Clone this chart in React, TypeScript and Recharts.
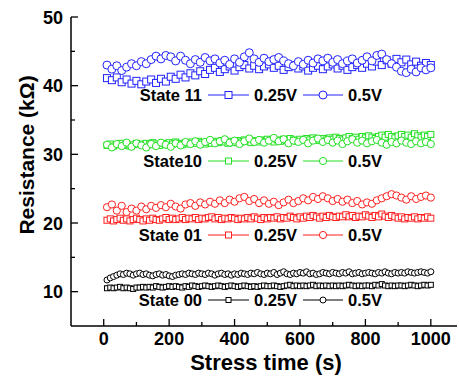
import React from 'react';
import { ScatterChart, Scatter, XAxis, YAxis } from 'recharts';

// sample times (s): the sparser set is every 15 s, the denser one every 10 s
const timeA = [
  10, 25, 40, 55, 70, 85, 100, 115, 130, 145,
  160, 175, 190, 205, 220, 235, 250, 265, 280, 295,
  310, 325, 340, 355, 370, 385, 400, 415, 430, 445,
  460, 475, 490, 505, 520, 535, 550, 565, 580, 595,
  610, 625, 640, 655, 670, 685, 700, 715, 730, 745,
  760, 775, 790, 805, 820, 835, 850, 865, 880, 895,
  910, 925, 940, 955, 970, 985, 1000,
];
const timeB = [
  10, 20, 30, 40, 50, 60, 70, 80, 90, 100,
  110, 120, 130, 140, 150, 160, 170, 180, 190, 200,
  210, 220, 230, 240, 250, 260, 270, 280, 290, 300,
  310, 320, 330, 340, 350, 360, 370, 380, 390, 400,
  410, 420, 430, 440, 450, 460, 470, 480, 490, 500,
  510, 520, 530, 540, 550, 560, 570, 580, 590, 600,
  610, 620, 630, 640, 650, 660, 670, 680, 690, 700,
  710, 720, 730, 740, 750, 760, 770, 780, 790, 800,
  810, 820, 830, 840, 850, 860, 870, 880, 890, 900,
  910, 920, 930, 940, 950, 960, 970, 980, 990, 1000,
];

// resistance in kΩ, read at 0.25 V and 0.5 V
const state11Low = [
  41.1, 40.8, 41.2, 40.5, 40.9, 40.3, 40.7, 40.2, 40.6, 40.9,
  40.4, 41.0, 40.6, 41.3, 41.0, 41.6, 41.2, 41.8, 41.5, 42.1,
  41.7, 42.3, 42.6, 42.0, 42.4, 42.8, 42.2, 42.7, 43.0, 42.5,
  42.9, 42.4, 42.8, 43.1, 42.6, 42.9, 42.3, 42.7, 43.0, 42.5,
  42.8, 42.2, 42.6, 42.9, 42.4, 42.8, 43.1, 42.5, 42.9, 42.3,
  42.7, 43.0, 42.6, 43.2, 42.8, 43.5, 43.0, 43.7, 43.2, 43.9,
  43.4, 43.8, 43.1, 43.5, 42.9, 43.3, 43.0,
];
const state11High = [
  43.0, 42.4, 42.9, 42.2, 42.7, 43.2, 42.9, 43.5, 43.2, 43.8,
  44.3, 43.9, 44.4, 44.2, 43.6, 44.3, 43.7, 43.2, 43.8, 43.4,
  44.1, 43.6, 43.9, 43.3, 43.7, 43.1, 43.9, 43.4, 44.2, 44.8,
  43.9, 43.4, 44.0, 43.5, 43.8, 44.1, 43.6, 43.2, 42.9, 43.5,
  43.1, 43.7, 43.3, 43.9, 43.6, 44.0, 43.4, 43.8, 43.2, 43.6,
  43.9, 43.3, 43.7, 44.2, 43.6, 44.4, 44.6, 43.8, 43.2, 42.7,
  42.1, 41.9, 42.4, 42.0, 42.6, 42.3, 42.6,
];
const state10Low = [
  31.3, 31.5, 31.2, 31.4, 31.6, 31.3, 31.5, 31.2, 31.4, 31.6,
  31.5, 31.3, 31.6, 31.4, 31.7, 31.5, 31.3, 31.6, 31.4, 31.7,
  31.5, 31.8, 31.6, 31.4, 31.7, 31.5, 31.8, 31.6, 31.9, 31.7,
  31.5, 31.8, 31.6, 31.9, 31.7, 32.0, 31.8, 31.6, 31.9, 31.7,
  32.0, 31.8, 32.1, 31.9, 31.7, 32.0, 31.8, 32.1, 31.9, 32.2,
  32.0, 31.8, 32.1, 31.9, 32.2, 32.0, 32.3, 32.1, 31.9, 32.2,
  32.0, 32.3, 32.1, 32.4, 32.2, 32.0, 32.3, 32.1, 32.4, 32.2,
  32.5, 32.3, 32.1, 32.4, 32.6, 32.3, 32.5, 32.2, 32.6, 32.4,
  32.7, 32.5, 32.3, 32.6, 32.8, 32.5, 32.9, 32.6, 32.4, 32.7,
  32.9, 32.6, 32.8, 32.5, 33.0, 32.7, 32.5, 32.8, 32.6, 32.9,
];
const state10High = [
  31.4, 31.0, 31.5, 31.2, 31.7, 31.1, 31.6, 31.3, 31.0, 31.5,
  31.2, 31.7, 31.4, 31.1, 31.6, 31.3, 31.8, 31.5, 31.9, 31.4,
  31.8, 32.1, 31.6, 31.9, 32.2, 31.7, 32.0, 31.5, 31.9, 32.3,
  31.8, 32.1, 31.7, 32.0, 32.4, 31.9, 32.2, 31.6, 32.0, 31.8,
  32.1, 31.6, 32.0, 32.3, 31.8, 32.1, 31.7, 32.0, 31.5, 31.9,
  32.2, 31.7, 32.0, 31.6, 31.9, 32.1, 31.7, 31.4, 31.8, 31.6,
  32.0, 31.7, 31.5, 31.9, 31.6, 31.8, 31.5,
];
const state01Low = [
  20.4, 20.6, 20.3, 20.5, 20.7, 20.4, 20.6, 20.3, 20.5, 20.7,
  20.5, 20.3, 20.6, 20.4, 20.7, 20.5, 20.4, 20.6, 20.8, 20.5,
  20.7, 20.5, 20.6, 20.8, 20.5, 20.7, 20.6, 20.8, 20.5, 20.7,
  20.6, 20.8, 20.9, 20.6, 20.8, 20.5, 20.7, 20.6, 20.8, 20.7,
  20.5, 20.7, 20.6, 20.8, 20.6, 20.9, 20.7, 20.5, 20.8, 20.6,
  20.8, 20.7, 20.9, 20.6, 20.8, 20.7, 21.0, 20.8, 20.6, 20.9,
  20.7, 21.0, 20.8, 21.1, 20.9, 20.7, 21.0, 20.8, 21.1, 20.9,
  20.8, 21.0, 20.9, 21.2, 20.9, 21.1, 20.8, 21.0, 20.9, 21.2,
  21.0, 20.8, 21.1, 20.9, 21.3, 21.0, 20.8, 21.1, 20.9, 20.7,
  20.9, 20.6, 20.8, 20.7, 20.9, 20.6, 20.8, 20.7, 20.9, 20.7,
];
const state01High = [
  22.3, 22.7, 21.8, 22.5, 21.6, 22.1, 21.8, 22.4, 22.0, 22.5,
  22.2, 22.6, 22.3, 22.8, 22.4, 22.1, 22.7, 22.9, 22.5, 23.0,
  22.7, 23.1, 22.8, 23.3, 22.9, 23.4, 23.1, 23.6, 23.8, 23.2,
  23.5, 22.9, 23.3, 22.8, 23.1, 22.6, 23.0, 23.4, 22.9, 23.2,
  23.6, 23.3, 23.8, 23.5, 23.9, 23.6, 23.2, 23.5, 23.1, 23.4,
  22.9, 23.2, 22.7, 23.0, 22.8, 23.3, 23.6, 23.9, 24.2, 24.0,
  23.7, 23.4, 23.9, 23.5, 23.8, 24.0, 23.7,
];
const state00Low = [
  10.5, 10.6, 10.5, 10.6, 10.7, 10.5, 10.6, 10.5, 10.4, 10.6,
  10.6, 10.7, 10.6, 10.7, 10.6, 10.8, 10.7, 10.6, 10.7, 10.8,
  10.7, 10.8, 10.7, 10.6, 10.8, 10.7, 10.9, 10.8, 10.7, 10.8,
  10.9, 10.8, 10.7, 10.8, 10.9, 10.8, 10.7, 10.8, 10.9, 10.8,
  10.7, 10.8, 10.9, 10.8, 10.7, 10.8, 10.7, 10.8, 10.9, 10.8,
  10.8, 10.9, 10.8, 10.7, 10.8, 10.9, 11.0, 10.8, 10.9, 10.8,
  10.9, 10.8, 10.9, 11.0, 10.8, 10.9, 10.8, 10.9, 10.8, 10.9,
  10.8, 10.9, 10.8, 10.9, 11.0, 10.9, 10.8, 10.9, 10.8, 10.9,
  10.9, 10.8, 11.0, 10.9, 11.1, 10.9, 10.8, 10.9, 10.8, 10.9,
  10.9, 10.8, 10.9, 11.0, 10.9, 10.8, 10.9, 11.0, 10.9, 11.0,
];
const state00High = [
  11.7, 12.0, 12.2, 12.4, 12.6, 12.5, 12.7, 12.6, 12.4, 12.6,
  12.7, 12.5, 12.6, 12.4, 12.3, 12.5, 12.6, 12.4, 12.5, 12.3,
  12.2, 12.4, 12.5, 12.6, 12.5, 12.7, 12.6, 12.5, 12.7, 12.6,
  12.5, 12.7, 12.6, 12.4, 12.6, 12.7, 12.5, 12.6, 12.4, 12.6,
  12.5, 12.7, 12.6, 12.5, 12.7, 12.6, 12.8, 12.6, 12.5, 12.7,
  12.6, 12.8, 12.5, 12.7, 12.9, 12.6, 12.5, 12.7, 12.6, 12.8,
  12.7, 12.9, 12.6, 12.7, 12.5, 12.6, 12.8, 12.7, 12.6, 12.8,
  12.7, 12.6, 12.8, 12.7, 12.9, 12.6, 12.7, 12.8, 12.6, 12.7,
  12.8, 12.7, 12.6, 12.8, 12.7, 12.9, 12.7, 12.6, 12.8, 12.7,
  12.8, 12.7, 12.9, 12.8, 12.7, 12.8, 12.9, 12.8, 12.7, 12.9,
];

const xTicks = [0, 100, 200, 300, 400, 500, 600, 700, 800, 900, 1000];
const yTicks = [10, 15, 20, 25, 30, 35, 40, 45, 50];

const BLUE = '#2222ff';
const GREEN = '#22e022';
const RED = '#ff2020';
const BLACK = '#000000';
const FONT = '"Liberation Sans", Arial, Helvetica, sans-serif';

const states = [
  { label: 'State 11', color: BLUE, low: state11Low, lowT: timeA, high: state11High, highT: timeA, sq: 7, r: 4, baseline: 101 },
  { label: 'State10', color: GREEN, low: state10Low, lowT: timeB, high: state10High, highT: timeA, sq: 6, r: 3.6, baseline: 167 },
  { label: 'State 01', color: RED, low: state01Low, lowT: timeB, high: state01High, highT: timeA, sq: 6, r: 3.6, baseline: 241 },
  { label: 'State 00', color: BLACK, low: state00Low, lowT: timeB, high: state00High, highT: timeB, sq: 5, r: 3, baseline: 306 },
];

const toPoints = (times: number[], vals: number[]) => times.map((t, i) => ({ t, r: vals[i] }));

const squareShape = (color: string, size: number) => (p: any) => (
  <rect
    x={p.cx - size / 2}
    y={p.cy - size / 2}
    width={size}
    height={size}
    fill="#fff"
    stroke={color}
    strokeWidth={1}
  />
);

const circleShape = (color: string, r: number) => (p: any) => (
  <circle cx={p.cx} cy={p.cy} r={r} fill="#fff" stroke={color} strokeWidth={1} />
);

// ticks point into the plot; majors are longer and carry the labels
const bottomTick = (p: any) => {
  const v = p.payload.value;
  const major = v % 200 === 0;
  return (
    <g>
      <line x1={p.x} x2={p.x} y1={p.y} y2={p.y - (major ? 7 : 4)} stroke="#000" strokeWidth={1.3} />
      {major && (
        <text x={p.x} y={p.y + 19} textAnchor="middle" fontFamily={FONT} fontWeight="bold" fontSize={18} fill="#000">
          {v}
        </text>
      )}
    </g>
  );
};

const topTick = (p: any) => {
  const major = p.payload.value % 200 === 0;
  return <line x1={p.x} x2={p.x} y1={p.y} y2={p.y + (major ? 7 : 4)} stroke="#000" strokeWidth={1.3} />;
};

const leftTick = (p: any) => {
  const v = p.payload.value;
  const major = v % 10 === 0;
  return (
    <g>
      <line x1={p.x} x2={p.x + (major ? 7 : 4)} y1={p.y} y2={p.y} stroke="#000" strokeWidth={1.3} />
      {major && (
        <text x={p.x - 8} y={p.y + 6.5} textAnchor="end" fontFamily={FONT} fontWeight="bold" fontSize={18} fill="#000">
          {v}
        </text>
      )}
    </g>
  );
};

const rightTick = (p: any) => {
  const major = p.payload.value % 10 === 0;
  return <line x1={p.x} x2={p.x - (major ? 7 : 4)} y1={p.y} y2={p.y} stroke="#000" strokeWidth={1.3} />;
};

const axisLine = { stroke: '#000', strokeWidth: 1.5 };

function LegendRow({ s }: { s: (typeof states)[number] }) {
  const ly = s.baseline - 6;
  const txt = { fontFamily: FONT, fontWeight: 'bold' as const, fontSize: 16.5, fill: '#000' };
  return (
    <g>
      <text x={202} y={s.baseline} textAnchor="end" {...txt}>{s.label}</text>
      <line x1={208} x2={249} y1={ly} y2={ly} stroke={s.color} strokeWidth={1} />
      <rect x={228.5 - s.sq / 2} y={ly - s.sq / 2} width={s.sq} height={s.sq} fill="#fff" stroke={s.color} />
      <text x={254} y={s.baseline} {...txt}>0.25V</text>
      <line x1={303} x2={343} y1={ly} y2={ly} stroke={s.color} strokeWidth={1} />
      <circle cx={323} cy={ly} r={s.r} fill="#fff" stroke={s.color} />
      <text x={348} y={s.baseline} {...txt}>0.5V</text>
    </g>
  );
}

export default function App() {
  return (
    <div style={{ position: 'absolute', left: 0, top: 0, width: 459, height: 376, background: '#fff' }}>
      <ScatterChart width={459} height={376} margin={{ top: 17, right: 2, bottom: 0, left: 11 }}>
        <XAxis
          xAxisId="bottom"
          orientation="bottom"
          type="number"
          dataKey="t"
          domain={[-100, 1080]}
          ticks={xTicks}
          interval={0}
          height={50}
          tickSize={0}
          tickMargin={0}
          tickLine={false}
          axisLine={axisLine}
          tick={bottomTick}
          allowDataOverflow
        />
        <XAxis
          xAxisId="top"
          orientation="top"
          type="number"
          dataKey="t"
          domain={[-100, 1080]}
          ticks={xTicks}
          interval={0}
          height={0}
          tickSize={0}
          tickMargin={0}
          tickLine={false}
          axisLine={axisLine}
          tick={topTick}
          allowDataOverflow
        />
        <YAxis
          yAxisId="left"
          orientation="left"
          type="number"
          dataKey="r"
          domain={[5, 50]}
          ticks={yTicks}
          interval={0}
          width={60}
          tickSize={0}
          tickMargin={0}
          tickLine={false}
          axisLine={axisLine}
          tick={leftTick}
          allowDataOverflow
        />
        <YAxis
          yAxisId="right"
          orientation="right"
          type="number"
          dataKey="r"
          domain={[5, 50]}
          ticks={yTicks}
          interval={0}
          width={0}
          tickSize={0}
          tickMargin={0}
          tickLine={false}
          axisLine={axisLine}
          tick={rightTick}
          allowDataOverflow
        />
        {states.map((s) => (
          <Scatter
            key={s.label + '-low'}
            xAxisId="bottom"
            yAxisId="left"
            data={toPoints(s.lowT, s.low)}
            shape={squareShape(s.color, s.sq)}
            isAnimationActive={false}
          />
        ))}
        {states.map((s) => (
          <Scatter
            key={s.label + '-high'}
            xAxisId="bottom"
            yAxisId="left"
            data={toPoints(s.highT, s.high)}
            shape={circleShape(s.color, s.r)}
            isAnimationActive={false}
          />
        ))}
      </ScatterChart>
      <svg width={459} height={376} style={{ position: 'absolute', left: 0, top: 0, pointerEvents: 'none' }}>
        {states.map((s) => (
          <LegendRow key={s.label} s={s} />
        ))}
        <text x={266} y={370} textAnchor="middle" fontFamily={FONT} fontWeight="bold" fontSize={22} fill="#000">
          Stress time (s)
        </text>
        <text
          x={0}
          y={0}
          transform="translate(34,155) rotate(-90)"
          textAnchor="middle"
          fontFamily={FONT}
          fontWeight="bold"
          fontSize={21}
          fill="#000"
        >
          Resistance (kΩ)
        </text>
      </svg>
    </div>
  );
}
